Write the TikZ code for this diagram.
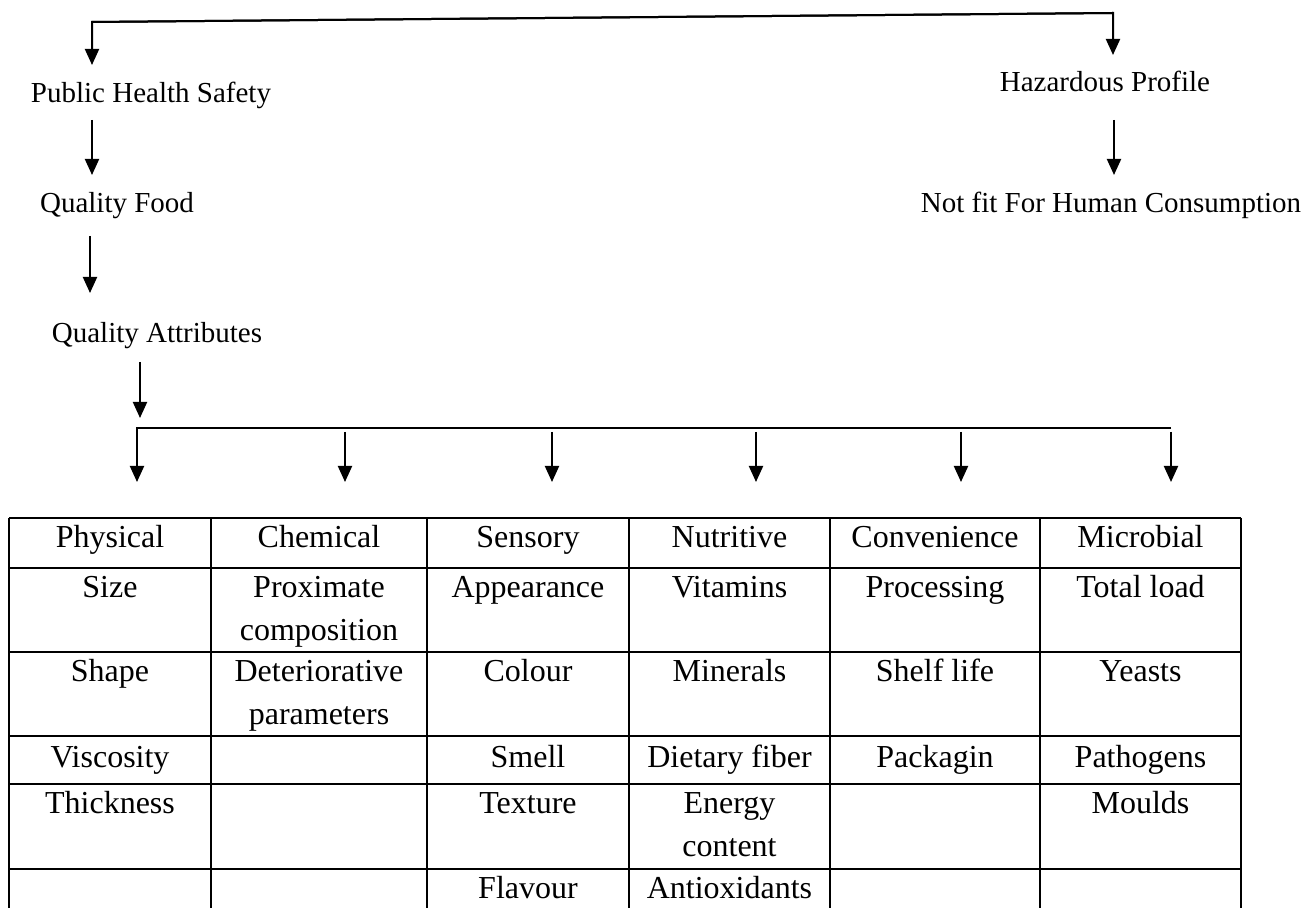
\documentclass[tikz,border=0pt]{standalone}
\usepackage{fontspec}
\setmainfont{Liberation Serif}
\usetikzlibrary{arrows.meta}
\tikzset{
 lbl/.style={font=\fontsize{14.5}{17}\selectfont, inner sep=0pt, anchor=base},
 cell/.style={font=\fontsize{16}{19}\selectfont, inner sep=0pt, anchor=base},
 arr/.style={line width=1pt, -{Triangle[width=7pt,length=8pt]}},
 gridline/.style={line width=1.1pt}
}
\begin{document}
\begin{tikzpicture}[x=0.5pt,y=-0.5pt]
\useasboundingbox (0,0) rectangle (1314,908);
% top labels
\node[lbl] (phs) at (151,103) {Public Health Safety};
\node[lbl] (qf) at (117,213) {Quality Food};
\node[lbl] (qa) at (157,343) {Quality Attributes};
\node[lbl] (hp) at (1105,92) {Hazardous Profile};
\node[lbl] (nf) at (1111,213) {Not fit For Human Consumption};
% top connector
\coordinate (tl) at (92,22);
\coordinate (tr) at (1113,13);
\coordinate (phsin) at (92,65);
\coordinate (hpin) at (1113,55);
\draw[arr] (tr) -- (tl) -- (phsin);
\draw[arr] (tl) -- (tr) -- (hpin);
% chain arrows
\coordinate (phsout) at (92,120); \coordinate (qfin) at (92,175);
\coordinate (qfout) at (90,236); \coordinate (qain) at (90,293);
\coordinate (hpout) at (1114,120); \coordinate (nfin) at (1114,175);
\coordinate (qaout) at (140,362); \coordinate (busin) at (140,418);
\draw[arr] (phsout) -- (qfin);
\draw[arr] (qfout) -- (qain);
\draw[arr] (hpout) -- (nfin);
\draw[arr] (qaout) -- (busin);
% bus
\coordinate (busL) at (137,428);
\coordinate (busR) at (1171,428);
\coordinate (t1) at (137,482);
\draw[arr] (busR) -- (busL) -- (t1);
\foreach \x [count=\i from 2] in {345,552,756,961,1171}{
  \coordinate (s\i) at (\x,432);
  \coordinate (t\i) at (\x,482);
  \draw[arr] (s\i) -- (t\i);
}
% table grid
\foreach \y in {518,568,652,736,784,869,920}
  \draw[gridline] (9,\y) -- (1241,\y);
\foreach \x in {9,211,427,629,830,1040,1241}
  \draw[gridline] (\x,518) -- (\x,920);
% row 1
\node[cell] (h1) at (110,548) {Physical};
\node[cell] (h2) at (319,548) {Chemical};
\node[cell] (h3) at (528,548) {Sensory};
\node[cell] (h4) at (729.5,548) {Nutritive};
\node[cell] (h5) at (935,548) {Convenience};
\node[cell] (h6) at (1140.5,548) {Microbial};
% row 2
\node[cell] (c21) at (110,598) {Size};
\node[cell] (c22a) at (319,598) {Proximate};
\node[cell] (c22b) at (319,641) {composition};
\node[cell] (c23) at (528,598) {Appearance};
\node[cell] (c24) at (729.5,598) {Vitamins};
\node[cell] (c25) at (935,598) {Processing};
\node[cell] (c26) at (1140.5,598) {Total load};
% row 3
\node[cell] (c31) at (110,682) {Shape};
\node[cell] (c32a) at (319,682) {Deteriorative};
\node[cell] (c32b) at (319,725) {parameters};
\node[cell] (c33) at (528,682) {Colour};
\node[cell] (c34) at (729.5,682) {Minerals};
\node[cell] (c35) at (935,682) {Shelf life};
\node[cell] (c36) at (1140.5,682) {Yeasts};
% row 4
\node[cell] (c41) at (110,768) {Viscosity};
\node[cell] (c43) at (528,768) {Smell};
\node[cell] (c44) at (729.5,768) {Dietary fiber};
\node[cell] (c45) at (935,768) {Packagin};
\node[cell] (c46) at (1140.5,768) {Pathogens};
% row 5
\node[cell] (c51) at (110,814) {Thickness};
\node[cell] (c53) at (528,814) {Texture};
\node[cell] (c54a) at (729.5,814) {Energy};
\node[cell] (c54b) at (729.5,857) {content};
\node[cell] (c56) at (1140.5,814) {Moulds};
% row 6
\node[cell] (c63) at (528,899) {Flavour};
\node[cell] (c64) at (729.5,899) {Antioxidants};
\end{tikzpicture}
\end{document}
